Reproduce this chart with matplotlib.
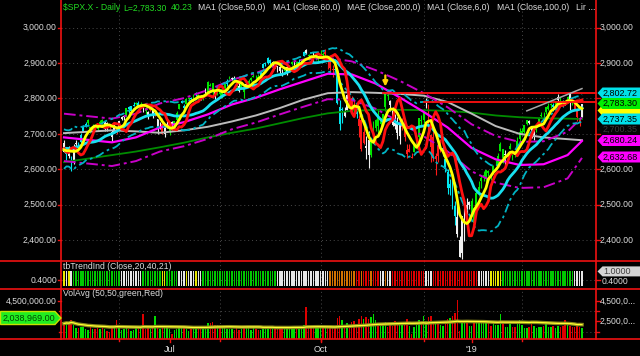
import numpy as np
import pandas as pd
import matplotlib
matplotlib.use("Agg")
import matplotlib.pyplot as plt
from matplotlib.patches import Polygon

plt.rcParams['font.family'] = ['Liberation Sans', 'DejaVu Sans']

# ---------------- data (S&P 500 daily, 2018-04-30 .. 2019-03-11) ----------------
x_labels = ["Jul", "Oct", "'19"]
x_label_idx = [44, 107, 170]

history_close = [2582, 2614, 2645, 2662, 2604, 2613, 2657, 2642, 2663, 2657,
                 2678, 2707, 2708, 2693, 2670, 2670, 2635, 2639, 2667, 2670]

opens = [2675,
    2643, 2654, 2628, 2621, 2670, 2670, 2678, 2705, 2722, 2738, 2719, 2712, 2720, 2718, 2725, 2738, 2714, 2731, 2724, 2705, 2703, 2720,
    2719, 2742, 2749, 2753, 2775, 2765, 2780, 2785, 2788, 2784, 2778, 2765, 2752, 2770, 2770, 2760, 2743, 2722, 2729, 2699, 2728,
    2705, 2733, 2724, 2738, 2769, 2788, 2780, 2784, 2799, 2801, 2790, 2811, 2810, 2800, 2799, 2821, 2817, 2835, 2843, 2820, 2809,
    2822, 2801, 2829, 2841, 2856, 2856, 2857, 2839, 2836, 2828, 2827, 2831, 2839, 2853, 2861, 2860, 2860, 2862, 2885, 2901, 2900, 2908, 2898,
    2897, 2892, 2889, 2869, 2882, 2872, 2889, 2897, 2906, 2904, 2890, 2907, 2919, 2937, 2924, 2921, 2917, 2911, 2911,
    2926, 2924, 2932, 2920, 2902, 2881, 2882, 2874, 2776, 2771, 2763, 2768, 2812, 2802, 2776, 2774, 2721, 2738, 2675, 2667, 2683, 2640, 2706,
    2717, 2754, 2727, 2739, 2775, 2807, 2794, 2773, 2730, 2737, 2693, 2719, 2731, 2655, 2657, 2633, 2649, 2664, 2691, 2736, 2738,
    2790, 2782, 2664, 2692, 2630, 2665, 2658, 2659, 2629, 2591, 2559, 2548, 2497, 2465, 2401, 2363, 2443, 2499, 2499,
    2477, 2491, 2475, 2536, 2568, 2580, 2573, 2588, 2580, 2586, 2614, 2609, 2651, 2657, 2643, 2638, 2658, 2644, 2645, 2654, 2685,
    2703, 2706, 2728, 2736, 2717, 2692, 2713, 2722, 2750, 2744, 2761, 2770, 2781, 2781, 2780, 2805, 2792, 2787, 2789,
    2798, 2814, 2794, 2790, 2768, 2731, 2747]

highs = [2683,
    2655, 2665, 2637, 2670, 2683, 2676, 2701, 2726, 2733, 2742, 2719, 2728, 2729, 2725, 2740, 2742, 2734, 2733, 2728, 2711, 2726, 2723,
    2737, 2750, 2752, 2772, 2779, 2779, 2790, 2791, 2792, 2789, 2780, 2775, 2765, 2774, 2771, 2764, 2743, 2733, 2746, 2725, 2743,
    2727, 2737, 2737, 2764, 2784, 2796, 2785, 2800, 2805, 2804, 2814, 2817, 2812, 2810, 2809, 2829, 2849, 2845, 2844, 2822, 2825,
    2826, 2830, 2841, 2854, 2863, 2862, 2864, 2842, 2843, 2843, 2827, 2850, 2855, 2860, 2873, 2867, 2868, 2876, 2899, 2904, 2916, 2912, 2907,
    2900, 2893, 2893, 2883, 2884, 2892, 2894, 2907, 2909, 2905, 2912, 2912, 2934, 2941, 2925, 2923, 2931, 2927, 2920,
    2938, 2932, 2940, 2920, 2909, 2894, 2894, 2874, 2795, 2775, 2776, 2814, 2817, 2807, 2798, 2779, 2753, 2742, 2723, 2693, 2707, 2686, 2737,
    2742, 2767, 2744, 2757, 2815, 2813, 2796, 2776, 2755, 2747, 2735, 2746, 2741, 2670, 2670, 2647, 2675, 2685, 2745, 2753, 2760,
    2800, 2785, 2698, 2708, 2645, 2674, 2685, 2671, 2635, 2601, 2573, 2585, 2510, 2504, 2410, 2468, 2489, 2520, 2510,
    2520, 2493, 2538, 2566, 2580, 2595, 2598, 2597, 2589, 2612, 2625, 2646, 2676, 2657, 2653, 2648, 2673, 2644, 2650, 2691, 2716,
    2716, 2725, 2739, 2739, 2719, 2708, 2718, 2749, 2762, 2761, 2777, 2788, 2787, 2786, 2793, 2813, 2803, 2795, 2793,
    2808, 2816, 2796, 2791, 2768, 2744, 2784]

lows = [2648,
    2626, 2633, 2595, 2616, 2664, 2655, 2674, 2705, 2718, 2725, 2702, 2711, 2710, 2708, 2724, 2721, 2708, 2707, 2714, 2676, 2703, 2700,
    2719, 2740, 2739, 2748, 2760, 2763, 2780, 2781, 2775, 2776, 2761, 2757, 2743, 2764, 2744, 2750, 2699, 2715, 2699, 2692, 2716,
    2698, 2711, 2717, 2733, 2769, 2786, 2770, 2784, 2792, 2794, 2789, 2806, 2796, 2795, 2795, 2811, 2814, 2835, 2806, 2799, 2809,
    2804, 2801, 2826, 2835, 2855, 2853, 2852, 2825, 2819, 2826, 2802, 2831, 2834, 2850, 2861, 2856, 2854, 2862, 2885, 2893, 2898, 2895, 2891,
    2885, 2876, 2870, 2864, 2869, 2867, 2879, 2895, 2896, 2887, 2890, 2903, 2919, 2927, 2910, 2913, 2903, 2909, 2905,
    2918, 2915, 2922, 2884, 2869, 2862, 2874, 2784, 2710, 2730, 2749, 2767, 2781, 2756, 2761, 2746, 2692, 2651, 2670, 2628, 2604, 2635, 2706,
    2709, 2700, 2719, 2738, 2766, 2795, 2765, 2722, 2714, 2685, 2670, 2712, 2681, 2632, 2650, 2631, 2649, 2656, 2684, 2724, 2730,
    2774, 2697, 2621, 2623, 2584, 2621, 2650, 2637, 2593, 2530, 2528, 2488, 2442, 2408, 2351, 2345, 2398, 2473, 2487,
    2467, 2444, 2475, 2525, 2547, 2568, 2562, 2582, 2570, 2586, 2612, 2607, 2651, 2618, 2612, 2627, 2657, 2625, 2634, 2648, 2678,
    2697, 2701, 2724, 2727, 2688, 2682, 2705, 2722, 2748, 2733, 2756, 2767, 2773, 2765, 2775, 2794, 2789, 2775, 2782,
    2787, 2767, 2782, 2768, 2737, 2722, 2747]

closes = [2648,
    2655, 2636, 2630, 2663, 2673, 2672, 2698, 2723, 2728, 2730, 2711, 2722, 2720, 2713, 2733, 2724, 2733, 2728, 2721, 2690, 2724, 2705,
    2735, 2747, 2749, 2772, 2770, 2779, 2782, 2787, 2776, 2782, 2780, 2774, 2763, 2767, 2750, 2755, 2717, 2723, 2700, 2716, 2718,
    2727, 2713, 2737, 2760, 2784, 2794, 2774, 2798, 2801, 2798, 2810, 2816, 2804, 2802, 2807, 2820, 2846, 2837, 2819, 2803, 2816,
    2813, 2827, 2840, 2850, 2858, 2858, 2854, 2833, 2822, 2840, 2818, 2841, 2850, 2857, 2863, 2862, 2857, 2875, 2897, 2898, 2914, 2901, 2902,
    2897, 2889, 2878, 2872, 2877, 2888, 2889, 2904, 2905, 2889, 2904, 2908, 2931, 2930, 2919, 2916, 2906, 2914, 2914,
    2925, 2923, 2926, 2902, 2886, 2884, 2880, 2786, 2728, 2767, 2751, 2810, 2809, 2769, 2768, 2756, 2741, 2656, 2706, 2659, 2641, 2683, 2712,
    2740, 2723, 2738, 2755, 2814, 2807, 2781, 2726, 2722, 2702, 2730, 2736, 2691, 2642, 2650, 2633, 2673, 2682, 2744, 2738, 2760,
    2790, 2700, 2696, 2633, 2638, 2637, 2651, 2651, 2600, 2546, 2546, 2507, 2467, 2417, 2351, 2468, 2489, 2486, 2507,
    2510, 2448, 2532, 2550, 2574, 2585, 2597, 2596, 2583, 2610, 2616, 2636, 2671, 2633, 2639, 2642, 2665, 2644, 2640, 2681, 2704,
    2707, 2725, 2738, 2732, 2706, 2708, 2710, 2745, 2753, 2746, 2776, 2780, 2785, 2775, 2793, 2796, 2794, 2792, 2784,
    2804, 2793, 2790, 2771, 2749, 2743, 2783]

volume_m = [2.3,
    2.4, 2.3, 2.6, 2.2, 1.9, 1.9, 2.0, 2.0, 1.8, 1.7, 2.0, 1.8, 1.8, 1.9, 1.8, 1.9, 1.8, 1.6, 1.5, 2.1, 1.9, 2.6,
    1.9, 1.7, 1.8, 1.9, 1.8, 1.6, 1.7, 1.9, 2.0, 1.9, 3.2, 1.8, 1.9, 1.8, 1.9, 3.0, 2.1, 1.8, 2.1, 1.9, 2.2,
    1.8, 1.3, 1.7, 1.8, 1.9, 1.9, 2.0, 1.8, 1.6, 1.8, 1.9, 1.9, 2.0, 2.0, 1.9, 2.1, 2.3, 2.3, 2.4, 2.2, 2.2,
    2.1, 2.0, 1.9, 1.8, 1.8, 1.8, 1.7, 1.9, 1.7, 1.8, 2.1, 1.9, 1.9, 1.7, 1.9, 1.8, 1.7, 1.7, 1.8, 1.8, 1.8, 1.8, 2.0,
    1.9, 2.0, 2.1, 2.0, 1.8, 1.9, 1.9, 1.8, 1.8, 1.8, 1.9, 2.0, 2.2, 3.9, 1.9, 2.0, 2.1, 2.0, 2.2,
    1.9, 1.9, 1.9, 2.0, 2.1, 2.0, 2.1, 2.8, 3.0, 2.6, 2.1, 2.3, 2.2, 2.4, 2.5, 2.2, 2.7, 3.0, 2.7, 2.9, 2.7, 2.9, 3.2,
    2.6, 2.3, 2.1, 2.2, 2.4, 2.0, 2.2, 2.1, 2.5, 2.4, 2.3, 2.4, 2.2, 2.7, 2.1, 1.3, 2.0, 2.2, 2.6, 2.4, 3.0,
    2.5, 2.9, 3.0, 2.5, 2.5, 2.3, 2.2, 2.1, 2.4, 2.7, 2.8, 3.0, 3.3, 4.6, 1.6, 2.4, 2.6, 2.3, 2.1,
    2.1, 2.4, 2.6, 2.5, 2.4, 2.4, 2.3, 2.3, 2.1, 2.3, 2.2, 2.2, 3.2, 2.3, 2.0, 2.0, 2.3, 2.0, 2.0, 2.4, 2.6,
    2.2, 1.9, 1.9, 2.0, 2.3, 2.1, 1.9, 2.0, 2.0, 2.1, 2.3, 2.0, 2.0, 2.1, 1.9, 2.1, 2.0, 2.1, 2.6,
    2.2, 2.1, 2.0, 2.0, 2.1, 2.0, 1.9]

# candle paint colours (g green, c cyan, w white, r red), one per bar
candle_codes = ("wcwcwwc" "ccc" "ggggggg" "wwrwwrwww" "gcccgcgwg" "wrwrwwrwwgw"
                "gggccggcgc" "gwgwgggwg" "gggcgwwgwggw" "ggggg" "ccccc" "wwwww"
                "gwggwg" "cccw" "ggwgggg" "rrrr" "cccc" "www" "rrcrrr" "ww"
                "gggggggg" "wwwww" "rrrrr" "ggggg" "wrrrrrr" "cccccc" "wwwwww"
                "ggggggggggggg" "gwwg" "ggggggg" "www" "gggggg" "gcgwgcwgwg" "rrrw")

# tbTrendInd colours per bar (g green, y yellow, w white, o orange, r red)
trend_codes = ("ywyw" "gggggggggggggggggggg" "wwwwwwwww" "gggggggg" "yy" "ggggg"
               "wwwywwwyww" "ggggggggggggggggggggggggggggggg" "wwwwwwwwwwwwwwwwwwwwww"
               "ooooooooooo" "rrorrrorrr" "wwoww" "rrrrrrrrrrrrrr" "www"
               "rrrrrrrrrrrrrrrrrrr" "wwwww" "yyyyy" "gggggggggggggggggggggggggggggg" "wwww")

# long averages (bar index -> price)
ma_idx = [0, 10, 20, 30, 40, 50, 60, 70, 80, 90, 100, 110, 120, 130, 140, 150, 160, 170, 180, 190, 200, 210, 216]
ma50 = [2690, 2683, 2676, 2690, 2718, 2733, 2755, 2783, 2802, 2826, 2848, 2870, 2868, 2842, 2803, 2762, 2718, 2660, 2628, 2612, 2614, 2640, 2680]
env_up = [2757, 2750, 2743, 2757, 2786, 2801, 2824, 2853, 2872, 2897, 2910, 2915, 2905, 2880, 2850, 2815, 2775, 2727, 2694, 2677, 2679, 2706, 2747]
env_lo = [2623, 2616, 2609, 2623, 2650, 2665, 2686, 2713, 2732, 2755, 2777, 2798, 2796, 2771, 2733, 2693, 2650, 2594, 2562, 2547, 2549, 2574, 2632]
ma100 = [2702, 2706, 2710, 2707, 2703, 2710, 2720, 2735, 2752, 2773, 2797, 2815, 2818, 2816, 2813, 2808, 2790, 2757, 2722, 2700, 2690, 2685, 2682]
ma200 = [2620, 2630, 2640, 2650, 2662, 2675, 2690, 2703, 2715, 2730, 2745, 2758, 2765, 2768, 2768, 2767, 2765, 2760, 2752, 2747, 2744, 2743, 2742]

resist_start = [133, 150]
resist_price = [2815, 2790]
lir_idx = [193, 216]
lir_val = [2765, 2828]
arrow_idx = 134

right_boxes = [  # (y pixel, text, face, text colour)
    (93.0, "2,802.72", "#00e0e8", "#000000"),
    (110.5, "", "#ffff00", "#000000"),
    (103.5, "2,783.30", "#00ee00", "#000000"),
    (129.5, "2,700.35", "#050505", "#3a3a3a"),
    (119.0, "2,737.35", "#00e0e8", "#000000"),
    (157.0, "2,632.68", "#ff00ff", "#000000"),
    (140.5, "2,680.24", "#ff00ff", "#000000"),
]
vol_last = "2,038,969.00"

# ---------------- derived indicators ----------------
N = len(closes)
idx = np.arange(N)
o = np.array(opens, float); h = np.array(highs, float)
l = np.array(lows, float); c = np.array(closes, float)
allc = pd.Series(history_close + closes, dtype=float)
H0 = len(history_close)
sma6 = allc.rolling(6).mean().values[H0:]
sma3s = allc.rolling(3).mean().shift(4).values[H0:]
sma20 = allc.rolling(20).mean().values[H0:]
prevc = np.concatenate([[history_close[-1]], c[:-1]])
tr = np.maximum(h - l, np.maximum(np.abs(h - prevc), np.abs(l - prevc)))
atr = pd.Series(tr).rolling(20, min_periods=1).mean().values
k_up = sma20 + 1.6 * atr
k_lo = sma20 - 1.6 * atr
vavg = pd.Series(volume_m).rolling(50, min_periods=1).mean().values

# ---------------- layout ----------------
W, HGT = 640, 356
fig = plt.figure(figsize=(6.4, 3.56), dpi=100, facecolor='black')
X0, X1 = 61, 596
Y_MAIN, Y_TR, Y_VOL = 260.7, 289.0, 338.7
PX_PER_BAR = 2.398
XL = ((X0 - 64) / PX_PER_BAR, (X1 - 64) / PX_PER_BAR)
P_MIN, P_MAX = 2341.3, 3078.5
T_MIN, T_MAX = -0.2, 1.73
V_MIN, V_MAX = 0.8, 5.7

def rect(top, bot):
    return [X0 / W, 1 - bot / HGT, (X1 - X0) / W, (bot - top) / HGT]

axm = fig.add_axes(rect(0, Y_MAIN))
axt = fig.add_axes(rect(Y_MAIN, Y_TR))
axv = fig.add_axes(rect(Y_TR, Y_VOL))
for a in (axm, axt, axv):
    a.set_facecolor('black')
    a.set_xlim(*XL)
    for s in a.spines.values():
        s.set_visible(False)
    a.set_xticks([]); a.set_yticks([])
axm.set_ylim(P_MIN, P_MAX)
axt.set_ylim(T_MIN, T_MAX)
axv.set_ylim(V_MIN, V_MAX)

grid_kw = dict(color='#4a4a4a', lw=0.7, ls=(0, (1, 3)), zorder=0)
for p in [2400, 2500, 2600, 2700, 2800, 2900, 3000]:
    axm.axhline(p, **grid_kw)
vgrid_idx = [23, 65, 107, 150, 191]
for a in (axm, axt, axv):
    for g in vgrid_idx:
        a.axvline(g, **grid_kw)
axt.axhline(0.4, **grid_kw)
axv.axhline(3.5, **grid_kw)
axv.axhline(1.5, **grid_kw)

# ---------------- candles ----------------
cmap = {'g': '#00e600', 'c': '#00e8f0', 'w': '#f0f0f0', 'r': '#ff1a1a'}
cols = [cmap[k] for k in candle_codes]
lo_w = np.minimum(l, np.minimum(o, c)); hi_w = np.maximum(h, np.maximum(o, c))
axm.vlines(idx, lo_w, hi_w, colors=cols, lw=0.8, zorder=2)
body_b = np.minimum(o, c); body_h = np.maximum(np.abs(c - o), 1.5)
axm.bar(idx, body_h, bottom=body_b, width=0.8, color=cols, linewidth=0, zorder=2)

# ---------------- lines ----------------
axm.plot(ma_idx, ma200, color='#008c00', lw=1.3, zorder=3)
axm.plot(ma_idx, ma100, color='#bcbcbc', lw=1.4, zorder=3)
axm.plot(ma_idx, env_up, color='#c800c8', lw=1.4, ls=(0, (6, 2, 1.5, 2)), zorder=3)
axm.plot(ma_idx, env_lo, color='#c800c8', lw=1.4, ls=(0, (6, 2, 1.5, 2)), zorder=3)
axm.plot(ma_idx, ma50, color='#ff00ff', lw=1.6, zorder=3)
axm.plot(idx, k_up, color='#00b4c4', lw=1.3, ls=(0, (5, 2, 1.5, 2)), zorder=4)
axm.plot(idx, k_lo, color='#00b4c4', lw=1.3, ls=(0, (5, 2, 1.5, 2)), zorder=4)
axm.plot(idx, sma20, color='#18e0f0', lw=2.0, zorder=4)
axm.plot(idx, sma3s, color='#ff1010', lw=2.0, zorder=5)
axm.plot(idx, sma6, color='#ffff00', lw=2.0, zorder=6)
for s, p in zip(resist_start, resist_price):
    axm.plot([s, XL[1]], [p, p], color='#ff1010', lw=1.3, zorder=6, clip_on=False)
axm.plot(lir_idx, lir_val, color='#a8a8a8', lw=1.1, zorder=6)
axm.annotate('', xy=(arrow_idx, 2826), xytext=(arrow_idx, 2873),
             arrowprops=dict(arrowstyle='-|>', color='#ffd200', lw=1.6, mutation_scale=7), zorder=7)

# ---------------- trend & volume ----------------
tmap = {'g': '#00c800', 'y': '#e8e800', 'w': '#e6e6e6', 'o': '#d47000', 'r': '#dd0000'}
axt.bar(idx, 1.0, bottom=0.0, width=0.6, color=[tmap[k] for k in trend_codes], linewidth=0)
vcols = ['#00dd00' if ci >= pc else '#dd0000' for ci, pc in zip(c, prevc)]
vm = np.array(volume_m)
axv.bar(idx, vm - V_MIN, bottom=V_MIN, width=0.6, color=vcols, linewidth=0, zorder=2)
axv.plot(idx, vavg, color='#8a8a1a', lw=2.6, zorder=3)
axv.plot(idx, vavg, color='#ffff30', lw=0.9, zorder=4)

# ---------------- overlay (pixel coords) ----------------
ov = fig.add_axes([0, 0, 1, 1], zorder=20)
ov.set_xlim(0, W); ov.set_ylim(HGT, 0); ov.axis('off'); ov.patch.set_alpha(0)
RED = '#ee1111'
FS = 6.2
TXT = '#dcdcdc'

def py_price(p):
    return Y_MAIN - (p - P_MIN) / (P_MAX - P_MIN) * Y_MAIN
def py_trend(v):
    return Y_TR - (v - T_MIN) / (T_MAX - T_MIN) * (Y_TR - Y_MAIN)
def py_vol(v):
    return Y_VOL - (v - V_MIN) / (V_MAX - V_MIN) * (Y_VOL - Y_TR)
def px_idx(i):
    return 64 + i * PX_PER_BAR

for y in (Y_MAIN, Y_TR, Y_VOL):
    ov.plot([0, W], [y, y], color=RED, lw=1.2)
ov.plot([X0, X0], [0, Y_VOL], color=RED, lw=1.2)
ov.plot([X1, X1], [0, Y_VOL], color=RED, lw=1.2)

right_hidden = {2800, 2700}   # covered by the value boxes on the right
for p in [3000, 2900, 2800, 2700, 2600, 2500, 2400]:
    y = py_price(p)
    lab = f"{p:,.2f}"
    ov.plot([57.5, X0], [y, y], color=RED, lw=1)
    ov.plot([X1, X1 + 3.5], [y, y], color=RED, lw=1)
    ov.text(57, y, lab, color=TXT, fontsize=FS, ha='right', va='center')
    if p not in right_hidden:
        ov.text(600, y, lab, color=TXT, fontsize=FS, ha='left', va='center')

# trend labels
y04 = py_trend(0.4)
ov.plot([57.5, X0], [y04, y04], color=RED, lw=1)
ov.plot([X1, X1 + 3.5], [y04, y04], color=RED, lw=1)
ov.text(57, y04, "0.4000", color=TXT, fontsize=FS, ha='right', va='center')
ov.text(602, y04 + 1.0, "0.4000", color=TXT, fontsize=FS, ha='left', va='center')

# volume labels
y45 = py_vol(4.5)
ov.plot([57.5, X0], [y45, y45], color=RED, lw=1)
ov.plot([X1, X1 + 3.5], [y45, y45], color=RED, lw=1)
ov.text(57, y45, "4,500,000.00", color=TXT, fontsize=FS, ha='right', va='center')
ov.text(600, y45, "4,500,0...", color=TXT, fontsize=FS, ha='left', va='center')
y25 = py_vol(2.5)
ov.plot([X1, X1 + 3.5], [y25, y25], color=RED, lw=1)
ov.text(600, y25, "2,500,0...", color=TXT, fontsize=FS, ha='left', va='center')
for v in (3.5, 1.5):
    y = py_vol(v)
    ov.plot([58.5, X0], [y, y], color=RED, lw=1)
    ov.plot([X1, X1 + 2.5], [y, y], color=RED, lw=1)

# right price boxes
def right_box(yc, text, face, tcol, hh=11.0):
    x0, x1 = 597.5, 641
    pts = [(x0, yc), (x0 + 5, yc - hh / 2), (x1, yc - hh / 2), (x1, yc + hh / 2), (x0 + 5, yc + hh / 2)]
    ov.add_patch(Polygon(pts, closed=True, facecolor=face, edgecolor='none', zorder=30))
    if text:
        ov.text(603, yc + 0.3, text, color=tcol, fontsize=FS + 0.3, ha='left', va='center', zorder=31)

for yc, t, f, tc in right_boxes:
    right_box(yc, t, f, tc)
right_box(py_trend(1.0), "1.0000", "#d4d4d4", "#404040", hh=10)

# left volume box
yb = 318.0
pts = [(0.5, yb - 6.5), (55, yb - 6.5), (61, yb), (55, yb + 6.5), (0.5, yb + 6.5)]
ov.add_patch(Polygon(pts, closed=True, facecolor='#20ee20', edgecolor='#c8e000', lw=1.0, zorder=30))
ov.text(29, yb + 0.3, vol_last, color='#004400', fontsize=FS + 0.3, ha='center', va='center', zorder=31)

# titles
GREEN = '#22dd22'
ov.text(63, 8, "\\$SPX.X - Daily", color=GREEN, fontsize=FS, ha='left', va='center')
ov.text(123, 8, "L=2,783.30", color=GREEN, fontsize=FS, ha='left', va='center')
ov.text(171, 8, "40.23", color=GREEN, fontsize=FS, ha='left', va='center')
for xp, t in [(198, "MA1 (Close,50,0)"), (273, "MA1 (Close,60,0)"), (347, "MAE (Close,200,0)"),
              (427, "MA1 (Close,6,0)"), (497, "MA1 (Close,100,0)"), (576, "Lir ...")]:
    ov.text(xp, 8, t, color=TXT, fontsize=FS, ha='left', va='center')
ov.text(63, 266.5, "tbTrendInd (Close,20,40,21)", color=TXT, fontsize=FS, ha='left', va='center')
ov.text(63, 294, "VolAvg (50,50,green,Red)", color=TXT, fontsize=FS, ha='left', va='center')

# x axis
for i, t in zip(x_label_idx, x_labels):
    x = px_idx(i)
    ov.plot([x, x], [Y_VOL, Y_VOL + 3.5], color=RED, lw=1)
    ov.text(x, 349.5, t, color=TXT, fontsize=FS + 0.3, ha='center', va='center')
for i in vgrid_idx:
    x = px_idx(i)
    ov.plot([x, x], [Y_VOL, Y_VOL + 2], color=RED, lw=1)

fig.savefig("out.png", dpi=100, facecolor='black')
